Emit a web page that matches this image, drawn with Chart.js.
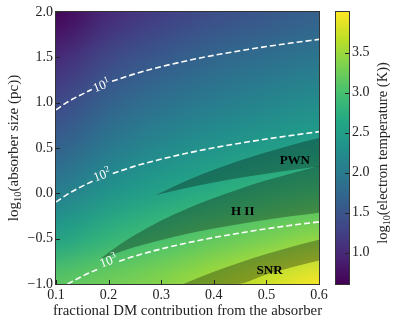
<!DOCTYPE html>
<html lang="en">
<head>
<meta charset="UTF-8">
<title>Electron temperature of the absorber</title>
<style>
html, body { margin: 0; padding: 0; background: #fff; }
#wrap { position: relative; width: 395px; height: 324px; }
#wrap canvas { position: absolute; left: 0; top: 0; }
</style>
</head>
<body>
<div id="wrap">
<canvas id="mapChart" width="395" height="324"></canvas>
<canvas id="barChart" width="395" height="324"></canvas>
</div>
<script src="https://cdn.jsdelivr.net/npm/chart.js"></script>
<script>
// axis ticks
const fracTicks = [0.1, 0.2, 0.3, 0.4, 0.5, 0.6];
const sizeTicks = [-1.0, -0.5, 0.0, 0.5, 1.0, 1.5, 2.0];
const cbTicks = [1.0, 1.5, 2.0, 2.5, 3.0, 3.5];
const cbMin = 0.61, cbMax = 4.01;

// log10 T on a coarse grid (rows top -> bottom)
const gridFrac = [0.1, 0.2, 0.3, 0.4, 0.5, 0.6];
const gridSize = [2.0, 1.5, 1.0, 0.5, 0.0, -0.5, -1.0];
const logTemp = [
  [0.62, 1.00, 1.23, 1.40, 1.53, 1.64],
  [1.00, 1.35, 1.56, 1.72, 1.84, 1.94],
  [1.34, 1.67, 1.88, 2.03, 2.15, 2.25],
  [1.66, 1.99, 2.20, 2.35, 2.47, 2.57],
  [2.05, 2.36, 2.56, 2.72, 2.85, 2.96],
  [2.55, 2.82, 3.00, 3.16, 3.31, 3.44],
  [3.15, 3.28, 3.40, 3.58, 3.78, 4.00]
];

// dashed contours, split where the inline label sits
const c1Left = [[0.1, 0.92], [0.12, 1.0], [0.14, 1.065], [0.168, 1.145]];
const c1Right = [[0.2065, 1.235], [0.25, 1.318], [0.3, 1.397], [0.35, 1.464], [0.4, 1.522], [0.45, 1.573], [0.5, 1.619], [0.55, 1.66], [0.6, 1.698]];
const c2Left = [[0.1, -0.095], [0.12, -0.017], [0.14, 0.05], [0.17, 0.135]];
const c2Right = [[0.208, 0.218], [0.25, 0.30], [0.3, 0.377], [0.35, 0.444], [0.4, 0.502], [0.45, 0.553], [0.5, 0.599], [0.55, 0.64], [0.6, 0.68]];
const c3Left = [[0.122, -1.0], [0.15, -0.914], [0.18, -0.835]];
const c3Right = [[0.22, -0.748], [0.25, -0.692], [0.3, -0.613], [0.35, -0.546], [0.4, -0.488], [0.45, -0.437], [0.5, -0.391], [0.55, -0.35], [0.6, -0.315]];
const contourExp = ['1', '2', '3'];
const contourLabelX = [0.187, 0.188, 0.2];
const contourLabelY = [1.184, 0.197, -0.752];

// shaded source classes
const pwnUpper = [[0.29, -0.02], [0.3, 0.009], [0.32, 0.065], [0.35, 0.143], [0.4, 0.259], [0.45, 0.362], [0.5, 0.453], [0.55, 0.536], [0.6, 0.611]];
const pwnLower = [[0.29, -0.02], [0.3, -0.005], [0.35, 0.062], [0.4, 0.12], [0.45, 0.171], [0.5, 0.217], [0.55, 0.258], [0.6, 0.296]];
const hiiUpper = [[0.1837, -0.727], [0.19, -0.698], [0.2, -0.653], [0.22, -0.57], [0.25, -0.459], [0.3, -0.301], [0.35, -0.167], [0.4, -0.051], [0.45, 0.051], [0.5, 0.143], [0.55, 0.225], [0.6, 0.301]];
const hiiLower = [[0.1837, -0.727], [0.2, -0.69], [0.25, -0.593], [0.3, -0.514], [0.35, -0.447], [0.4, -0.389], [0.45, -0.338], [0.5, -0.292], [0.55, -0.251], [0.6, -0.213]];
const snrUpper = [[0.342, -1.0], [0.4, -0.864], [0.45, -0.762], [0.5, -0.67], [0.55, -0.587], [0.6, -0.512]];
const snrLower = [[0.342, -1.0], [0.4435, -1.0], [0.5, -0.896], [0.55, -0.813], [0.6, -0.742]];
const regionNames = ['PWN', 'H II', 'SNR'];
const regionLabelX = [0.554, 0.455, 0.506];
const regionLabelY = [0.357, -0.198, -0.857];

const SERIF = '"Liberation Serif", "DejaVu Serif", serif';
const INK = '#222';

const viridisStops = ['#440154', '#482475', '#414487', '#355f8d', '#2a788e', '#21918c', '#22a884', '#44bf70', '#7ad151', '#bddf26', '#fde725'];
const viridisRgb = viridisStops.map(h => [1, 3, 5].map(i => parseInt(h.substr(i, 2), 16)));
function viridis(t) {
  t = Math.min(1, Math.max(0, t)) * 10;
  const i = Math.min(9, Math.floor(t)), u = t - i;
  return viridisRgb[i].map((c, k) => Math.round(c + (viridisRgb[i + 1][k] - c) * u));
}

const pts = arr => arr.map(p => ({ x: p[0], y: p[1] }));

function contourSet(arr) {
  return {
    data: pts(arr), borderColor: '#fff', borderWidth: 1.6, borderDash: [6, 3],
    pointRadius: 0, fill: false, cubicInterpolationMode: 'monotone'
  };
}
function edgeSet(arr, fill) {
  return {
    data: pts(arr), borderColor: 'transparent', borderWidth: 0, pointRadius: 0,
    backgroundColor: 'rgba(0,0,0,0.3)', fill: fill, cubicInterpolationMode: 'monotone'
  };
}

// draw text made of pieces (for sub/superscripts)
function drawRich(ctx, parts, cx, cy, angle, size, color, weight) {
  ctx.save();
  ctx.translate(cx, cy);
  ctx.rotate(angle);
  ctx.fillStyle = color;
  ctx.textBaseline = 'middle';
  ctx.textAlign = 'left';
  let total = 0;
  parts.forEach(p => {
    ctx.font = (weight || '') + ' ' + (size * (p.s || 1)) + 'px ' + SERIF;
    p.w = ctx.measureText(p.t).width;
    total += p.w;
  });
  let xx = -total / 2;
  parts.forEach(p => {
    ctx.font = (weight || '') + ' ' + (size * (p.s || 1)) + 'px ' + SERIF;
    ctx.fillText(p.t, xx, (p.dy || 0) * size);
    xx += p.w;
  });
  ctx.restore();
}

const heatmapPlugin = {
  id: 'heatmap',
  beforeDatasetsDraw(chart) {
    const { ctx, scales: { x, y } } = chart;
    const off = document.createElement('canvas');
    off.width = gridFrac.length;
    off.height = gridSize.length;
    const octx = off.getContext('2d');
    const img = octx.createImageData(off.width, off.height);
    logTemp.forEach((row, j) => row.forEach((v, i) => {
      const c = viridis((v - cbMin) / (cbMax - cbMin));
      const k = (j * off.width + i) * 4;
      img.data[k] = c[0]; img.data[k + 1] = c[1]; img.data[k + 2] = c[2]; img.data[k + 3] = 255;
    }));
    octx.putImageData(img, 0, 0);
    const x0 = x.getPixelForValue(gridFrac[0]);
    const x1 = x.getPixelForValue(gridFrac[gridFrac.length - 1]);
    const y0 = y.getPixelForValue(gridSize[0]);
    const y1 = y.getPixelForValue(gridSize[gridSize.length - 1]);
    ctx.save();
    ctx.imageSmoothingEnabled = true;
    ctx.imageSmoothingQuality = 'high';
    ctx.drawImage(off, 0.5, 0.5, off.width - 1, off.height - 1, x0, y0, x1 - x0, y1 - y0);
    ctx.restore();
  }
};

const annotatePlugin = {
  id: 'annotate',
  afterDatasetsDraw(chart) {
    const { ctx, scales: { x, y } } = chart;
    // contour labels, turned along the line
    const gaps = [[c1Left, c1Right], [c2Left, c2Right], [c3Left, c3Right]];
    contourExp.forEach((e, i) => {
      const a = gaps[i][0][gaps[i][0].length - 1], b = gaps[i][1][0];
      const ang = Math.atan2(y.getPixelForValue(b[1]) - y.getPixelForValue(a[1]), x.getPixelForValue(b[0]) - x.getPixelForValue(a[0]));
      drawRich(ctx, [{ t: '10' }, { t: e, s: 0.7, dy: -0.3 }],
        x.getPixelForValue(contourLabelX[i]), y.getPixelForValue(contourLabelY[i]), ang, 13, '#fff');
    });
    regionNames.forEach((n, i) => {
      drawRich(ctx, [{ t: n }], x.getPixelForValue(regionLabelX[i]), y.getPixelForValue(regionLabelY[i]), 0, 13, '#000', 'bold');
    });
  },
  afterDraw(chart) {
    const { ctx, chartArea: a, scales: { x, y } } = chart;
    ctx.save();
    ctx.strokeStyle = INK;
    ctx.lineWidth = 1;
    ctx.beginPath();
    fracTicks.forEach(v => {
      const px = Math.round(x.getPixelForValue(v)) + 0.5;
      ctx.moveTo(px, a.bottom); ctx.lineTo(px, a.bottom - 4);
    });
    sizeTicks.forEach(v => {
      const py = Math.round(y.getPixelForValue(v)) + 0.5;
      ctx.moveTo(a.left, py); ctx.lineTo(a.left + 4, py);
    });
    ctx.stroke();
    ctx.strokeStyle = '#333';
    ctx.strokeRect(a.left - 0.5, a.top - 0.5, a.right - a.left + 1, a.bottom - a.top + 1);
    ctx.restore();
    drawRich(ctx, [{ t: 'fractional DM contribution from the absorber' }], (a.left + a.right) / 2, 311, 0, 14.8, INK);
    drawRich(ctx, [{ t: 'log' }, { t: '10', s: 0.7, dy: 0.28 }, { t: '(absorber size (pc))' }], 14, (a.top + a.bottom) / 2, -Math.PI / 2, 15, INK);
  }
};

const tickFont = { family: SERIF, size: 14 };
const fmt = v => (v < 0 ? '\u2212' : '') + Math.abs(v).toFixed(1);

new Chart(document.getElementById('mapChart'), {
  type: 'line',
  data: {
    datasets: [
      edgeSet(pwnUpper, '+1'), edgeSet(pwnLower, false),
      edgeSet(hiiUpper, '+1'), edgeSet(hiiLower, false),
      edgeSet(snrUpper, '+1'), edgeSet(snrLower, false),
      contourSet(c1Left), contourSet(c1Right),
      contourSet(c2Left), contourSet(c2Right),
      contourSet(c3Left), contourSet(c3Right)
    ]
  },
  options: {
    responsive: false,
    animation: false,
    layout: { padding: { top: 12, right: 76, left: 0, bottom: 0 } },
    plugins: { legend: { display: false }, tooltip: { enabled: false } },
    scales: {
      x: {
        type: 'linear', min: 0.1, max: 0.6,
        afterBuildTicks: s => { s.ticks = fracTicks.map(v => ({ value: v })); },
        afterFit: s => { s.height = 40; },
        grid: { display: false, drawTicks: false }, border: { display: false },
        ticks: { padding: 3, maxRotation: 0, autoSkip: false, font: tickFont, color: INK, callback: fmt }
      },
      y: {
        type: 'linear', min: -1, max: 2,
        afterBuildTicks: s => { s.ticks = sizeTicks.map(v => ({ value: v })); },
        afterFit: s => { s.width = 56; },
        grid: { display: false, drawTicks: false }, border: { display: false },
        ticks: { padding: 3, autoSkip: false, font: tickFont, color: INK, callback: fmt }
      }
    }
  },
  plugins: [heatmapPlugin, annotatePlugin]
});

// colour bar
const colorbarPlugin = {
  id: 'colorbarFrame',
  afterDraw(chart) {
    const { ctx, chartArea: a, scales: { y } } = chart;
    ctx.save();
    ctx.strokeStyle = INK;
    ctx.lineWidth = 1;
    ctx.beginPath();
    cbTicks.forEach(v => {
      const py = Math.round(y.getPixelForValue(v)) + 0.5;
      ctx.moveTo(a.right, py); ctx.lineTo(a.right - 4, py);
    });
    ctx.stroke();
    ctx.strokeStyle = '#333';
    ctx.strokeRect(a.left - 0.5, a.top - 0.5, a.right - a.left + 1, a.bottom - a.top + 1);
    ctx.restore();
    drawRich(ctx, [{ t: 'log' }, { t: '10', s: 0.7, dy: 0.28 }, { t: '(electron temperature (K))' }],
      383, 153, -Math.PI / 2, 14.5, INK);
  }
};

new Chart(document.getElementById('barChart'), {
  type: 'bar',
  data: {
    labels: ['T'],
    datasets: [{
      data: [[cbMin, cbMax]],
      barPercentage: 1, categoryPercentage: 1, borderWidth: 0,
      backgroundColor: c => {
        const a = c.chart.chartArea;
        if (!a) return '#21918c';
        const g = c.chart.ctx.createLinearGradient(0, a.bottom, 0, a.top);
        viridisStops.forEach((col, i) => g.addColorStop(i / 10, col));
        return g;
      }
    }]
  },
  options: {
    responsive: false,
    animation: false,
    layout: { padding: { left: 336, top: 12, bottom: 40, right: 0 } },
    plugins: { legend: { display: false }, tooltip: { enabled: false } },
    scales: {
      x: { display: false },
      y: {
        position: 'right', min: cbMin, max: cbMax,
        afterBuildTicks: s => { s.ticks = cbTicks.map(v => ({ value: v })); },
        afterFit: s => { s.width = 46; },
        grid: { display: false, drawTicks: false }, border: { display: false },
        ticks: { padding: 3, font: tickFont, color: INK, callback: v => v.toFixed(1) }
      }
    }
  },
  plugins: [colorbarPlugin]
});
</script>
</body>
</html>
